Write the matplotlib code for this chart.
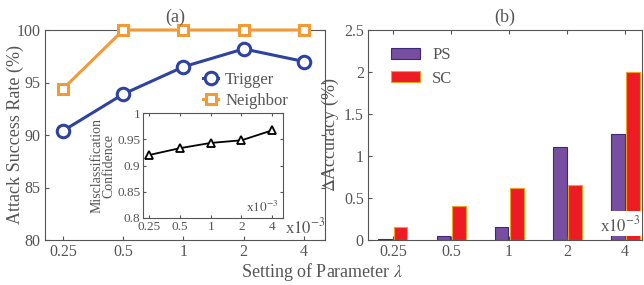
import numpy as np
import matplotlib.pyplot as plt
from matplotlib.patches import Rectangle

plt.rcParams['font.family'] = ['Liberation Serif', 'DejaVu Serif']
plt.rcParams['mathtext.fontset'] = 'stix'
grey = '#555555'
plt.rcParams['text.color'] = grey
plt.rcParams['axes.labelcolor'] = grey
plt.rcParams['xtick.color'] = grey
plt.rcParams['ytick.color'] = grey
plt.rcParams['axes.edgecolor'] = grey

# data
lambdas = ['0.25', '0.5', '1', '2', '4']
trigger = [90.4, 93.9, 96.5, 98.2, 97.0]
neighbor = [94.4, 100, 100, 100, 100]
confidence = [0.920, 0.933, 0.943, 0.948, 0.967]
ps = [0.01, 0.05, 0.16, 1.11, 1.26]
sc = [0.16, 0.41, 0.62, 0.65, 2.0]

x = np.arange(len(lambdas))

fig = plt.figure(figsize=(6.44, 2.85), dpi=100)

#(a)-----------------
ax1 = fig.add_axes([45/644, 45/285, 280/644, 210/285])
ax1.plot(x, trigger, '-o', color='#2e43a0', lw=2.2, ms=9, mfc='white', mew=2.2, label='Trigger', clip_on=False)
ax1.plot(x, neighbor, '-s', color='#f39a38', lw=2.2, ms=7, mfc='white', mew=2.2, label='Neighbor', clip_on=False, zorder=3)
ax1.set_xlim(-0.3, 4.35)
ax1.set_ylim(80, 100)
ax1.set_yticks([80, 85, 90, 95, 100])
ax1.set_xticks(x)
ax1.set_xticklabels(lambdas)
ax1.tick_params(direction='in', labelsize=11.5, top=False, right=True, length=3, pad=3)
ax1.set_ylabel('Attack Success Rate (%)', fontsize=13)
ax1.yaxis.set_label_coords(-0.075, 0.5)
ax1.set_title('(a)', fontsize=13, pad=6, x=0.464)
ax1.legend(loc='upper left', bbox_to_anchor=(0.53, 0.85), frameon=False, fontsize=12,
           handlelength=0.9, handletextpad=0.4, labelspacing=0.3, borderpad=0.1)
ax1.text(1.0, 0.06, r'x$10^{-3}$', transform=ax1.transAxes, ha='right', va='center', fontsize=12)

# inset
ins = fig.add_axes([143/644, 67/285, 140/644, 105/285])
ins.plot(x, confidence, '-^', color='black', lw=1.3, ms=6, mfc='white', mew=1.3)
ins.set_xlim(-0.2, 4.35)
ins.set_ylim(0.8, 1.0)
ins.set_yticks([0.8, 0.85, 0.9, 0.95, 1.0])
ins.set_yticklabels(['0.8', '0.85', '0.9', '0.95', '1'])
ins.set_xticks(x)
ins.set_xticklabels(lambdas)
ins.tick_params(direction='in', labelsize=9.5, top=True, right=True, length=2, pad=2)
ins.set_ylabel('Misclassification\nConfidence', fontsize=10, labelpad=1, linespacing=0.9)
ins.text(0.97, 0.1, r'x$10^{-3}$', transform=ins.transAxes, ha='right', va='center', fontsize=9.5)

#(b)-----------------
ax2 = fig.add_axes([368/644, 45/285, 274/644, 210/285])
w = 0.24
ax2.bar(x - 0.13, ps, w, color='#784fa0', edgecolor='#3a2a7a', lw=0.8, label='PS')
ax2.bar(x + 0.13, sc, w, color='#ed1c24', edgecolor='#f0a020', lw=0.8, label='SC')
ax2.set_xlim(-0.43, 4.29)
ax2.set_ylim(0, 2.5)
ax2.set_yticks([0, 0.5, 1, 1.5, 2, 2.5])
ax2.set_yticklabels(['0', '0.5', '1', '1.5', '2', '2.5'])
ax2.set_xticks(x)
ax2.set_xticklabels(lambdas)
ax2.tick_params(direction='in', labelsize=11.5, top=True, right=False, length=3, pad=3)
ax2.set_ylabel(r'$\Delta$Accuracy (%)', fontsize=13)
ax2.yaxis.set_label_coords(-0.1, 0.5)
ax2.set_title('(b)', fontsize=13, pad=6)
ax2.legend(loc='upper left', bbox_to_anchor=(0.03, 0.99), frameon=False, fontsize=12,
           handlelength=1.75, handleheight=0.66, handletextpad=0.7, labelspacing=0.45)
# break marker on the last group
ax2.add_patch(Rectangle((3.6, 0.05), 0.75, 0.29, facecolor='white', edgecolor='none', zorder=3))
ax2.text(0.995, 0.07, r'x$10^{-3}$', transform=ax2.transAxes, ha='right', va='center', fontsize=12, zorder=4)

fig.text(0.5, 0.045, r'Setting of Parameter $\lambda$', ha='center', va='center', fontsize=13)

fig.savefig('out.png', dpi=100)
